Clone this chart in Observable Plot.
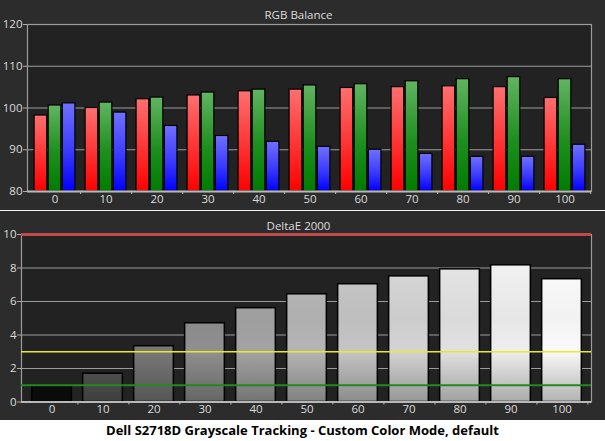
<!DOCTYPE html>
<html><head><meta charset="utf-8">
<script src="https://cdn.jsdelivr.net/npm/d3@7"></script>
<script src="https://cdn.jsdelivr.net/npm/@observablehq/plot@0.6"></script>
<style>
html,body{margin:0;padding:0;background:#fff;}
#wrap{width:605px;height:441px;overflow:hidden;}
#top,#bottom{background:#2c2c2c;line-height:0;}
.sep{height:1px;background:#f4f4f4;}
#caption{height:21px;background:#fff;color:#000;text-align:center;font:bold 13px "Open Sans",sans-serif;line-height:21px;white-space:nowrap;}
svg{display:block;}
</style></head>
<body>
<div id="wrap">
<div id="top"></div>
<div class="sep"></div>
<div id="bottom"></div>
<div id="caption">Dell S2718D Grayscale Tracking - Custom Color Mode, default</div>
</div>
<script>
// ---- data ----
const levels = ["0","10","20","30","40","50","60","70","80","90","100"];
const redValues   = [98.2, 100.0, 102.1, 103.0, 104.0, 104.4, 104.8, 105.0, 105.2, 105.0, 102.4];
const greenValues = [100.6, 101.3, 102.5, 103.7, 104.4, 105.4, 105.7, 106.4, 106.9, 107.4, 106.9];
const blueValues  = [101.1, 98.9, 95.7, 93.3, 91.9, 90.7, 90.0, 89.0, 88.3, 88.3, 91.2];
const deltaE      = [0.95, 1.69, 3.33, 4.70, 5.60, 6.43, 7.03, 7.50, 7.92, 8.16, 7.33];
const rgbTicks = [80, 90, 100, 110, 120];
const deTicks = [0, 2, 4, 6, 8, 10];
const deLimitRed = 10, deLimitYellow = 3, deLimitGreen = 1;
const rgbTitle = "RGB Balance";
const deTitle = "DeltaE 2000";

// ---- layout / style ----
const W = 605;
const FONT = "Open Sans, sans-serif";
const labelColor = "#dcdcdc";
const gridColor = "#9c9c9c";
const innerBg = "#222222";

const rgbRows = levels.map((l, i) => ({level: l, r: redValues[i], g: greenValues[i], b: blueValues[i]}));
const deRows = levels.map((l, i) => ({level: l, i, v: deltaE[i]}));

// top panel geometry
const tm = {marginTop: 24, marginBottom: 19, marginLeft: 27, marginRight: 14};
const bwTop = (W - tm.marginLeft - tm.marginRight) / levels.length;
const barW = 12.9, gap = 1.2;
const side = (bwTop - 3 * barW - 2 * gap) / 2;
const insetFor = k => ({insetLeft: side + k * (barW + gap), insetRight: bwTop - (side + k * (barW + gap) + barW)});

function rgbDefs() {
  const defs = d3.create("svg:defs");
  const grads = [["gR", "#ff7070", "#ff3232", "#ff0000"], ["gG", "#62b462", "#1e8f1e", "#007c00"], ["gB", "#7070ff", "#3a3aff", "#0000ff"]];
  for (const [id, c0, c1, c2] of grads) {
    const lg = defs.append("linearGradient").attr("id", id).attr("x1", 0).attr("y1", 0).attr("x2", 0).attr("y2", 1);
    lg.append("stop").attr("offset", 0).attr("stop-color", c0);
    lg.append("stop").attr("offset", 0.55).attr("stop-color", c1);
    lg.append("stop").attr("offset", 1).attr("stop-color", c2);
  }
  return defs.node();
}

const topPlot = Plot.plot({
  width: W, height: 210, ...tm,
  style: {background: "transparent", fontFamily: FONT, fontSize: "11px", color: labelColor},
  x: {domain: levels, padding: 0, label: null},
  y: {domain: [80, 120], label: null},
  marks: [
    rgbDefs,
    Plot.frame({fill: innerBg, stroke: null}),
    Plot.gridY(rgbTicks, {stroke: gridColor, strokeOpacity: 1, strokeWidth: 1.2}),
    Plot.barY(rgbRows, {x: "level", y1: 80, y2: "r", fill: "url(#gR)", stroke: "#000", strokeWidth: 1.2, ...insetFor(0)}),
    Plot.barY(rgbRows, {x: "level", y1: 80, y2: "g", fill: "url(#gG)", stroke: "#000", strokeWidth: 1.2, ...insetFor(1)}),
    Plot.barY(rgbRows, {x: "level", y1: 80, y2: "b", fill: "url(#gB)", stroke: "#000", strokeWidth: 1.2, ...insetFor(2)}),
    Plot.frame({stroke: gridColor, strokeWidth: 1.2}),
    Plot.ruleY([80], {stroke: "#b8b8b8", strokeWidth: 2}),
    Plot.axisY(rgbTicks, {tickSize: 4, tickPadding: 1, stroke: "#aaa", fill: labelColor, fontSize: 11.5}),
    Plot.axisX({tickSize: 0, tickPadding: 3, fill: labelColor, fontSize: 11.5}),
    Plot.axisX({tickSize: 3, tickFormat: () => "", dx: bwTop / 2, stroke: "#bbb"}),
    Plot.text([rgbTitle], {frameAnchor: "top", dy: -13.5, dx: -11, fill: labelColor, fontSize: 11.5})
  ]
});
document.getElementById("top").append(topPlot);

// bottom panel
const bm = {marginTop: 23, marginBottom: 18.5, marginLeft: 21, marginRight: 14};
const bH = 209;
const bwBot = (W - bm.marginLeft - bm.marginRight) / levels.length;
const grayInset = (bwBot - 40.5) / 2;
const grayOf = d3.scalePow().exponent(0.5).domain([0, 100]).range([14, 255]);

function grayDefs(index, scales, values, dims) {
  const defs = d3.create("svg:defs");
  const y1 = dims.marginTop, y2 = dims.height - dims.marginBottom;
  levels.forEach((l, i) => {
    const c = d3.rgb(grayOf(+l), grayOf(+l), grayOf(+l));
    const lg = defs.append("linearGradient").attr("id", "gg" + i)
      .attr("gradientUnits", "userSpaceOnUse").attr("x1", 0).attr("x2", 0).attr("y1", y1).attr("y2", y2);
    lg.append("stop").attr("offset", 0).attr("stop-color", c.brighter(0.05).formatHex());
    lg.append("stop").attr("offset", 0.5).attr("stop-color", c.darker(0.15).formatHex());
    lg.append("stop").attr("offset", 0.7).attr("stop-color", c.darker(0.05).formatHex());
    lg.append("stop").attr("offset", 1).attr("stop-color", c.darker(1.0).formatHex());
  });
  return defs.node();
}

const bottomPlot = Plot.plot({
  width: W, height: bH, ...bm,
  style: {background: "transparent", fontFamily: FONT, fontSize: "11px", color: labelColor},
  x: {domain: levels, padding: 0, label: null},
  y: {domain: [0, 10], label: null},
  color: {type: "identity"},
  marks: [
    grayDefs,
    Plot.frame({fill: innerBg, stroke: null}),
    Plot.gridY(deTicks, {stroke: gridColor, strokeOpacity: 1, strokeWidth: 1.2}),
    Plot.barY(deRows, {x: "level", y: "v", fill: d => `url(#gg${d.i})`, stroke: "#000", strokeWidth: 1.5, insetLeft: grayInset, insetRight: grayInset}),
    Plot.frame({stroke: gridColor, strokeWidth: 1.2}),
    Plot.ruleY([deLimitGreen], {stroke: "#1f8a1f", strokeWidth: 1.8}),
    Plot.ruleY([deLimitYellow], {stroke: "#e8e830", strokeWidth: 1.5}),
    Plot.ruleY([deLimitRed], {stroke: "#c04a4a", strokeWidth: 3}),
    Plot.ruleY([0], {stroke: "#b8b8b8", strokeWidth: 2}),
    Plot.axisY(deTicks, {tickSize: 4, tickPadding: 1, stroke: "#aaa", fill: labelColor, fontSize: 11.5}),
    Plot.axisX({tickSize: 0, tickPadding: 3, fill: labelColor, fontSize: 11.5}),
    Plot.axisX({tickSize: 3, tickFormat: () => "", dx: bwBot / 2, stroke: "#bbb"}),
    Plot.text([deTitle], {frameAnchor: "top", dy: -13, dx: -8, fill: labelColor, fontSize: 11.5})
  ]
});
document.getElementById("bottom").append(bottomPlot);
</script>
</body></html>
